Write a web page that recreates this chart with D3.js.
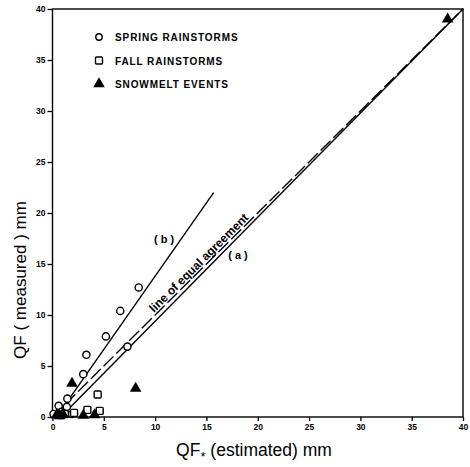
<!DOCTYPE html>
<html>
<head>
<meta charset="utf-8">
<script src="https://cdn.jsdelivr.net/npm/d3@7"></script>
<style>
  body { margin: 0; background: #fff; }
  svg { font-family: "Liberation Sans", Arial, sans-serif; }
</style>
</head>
<body>
<svg id="drawing_region"></svg>
<script>
// QF estimated (x) vs measured (y), mm
const spring = [
    [0.1, 0.3], [0.6, 1.1], [0.9, 0.5], [1.4, 1.0], [1.45, 1.8], [1.9, 0.3],
    [3.0, 4.2], [3.3, 6.1], [5.2, 7.9], [6.6, 10.4], [8.4, 12.7], [7.3, 6.9]
];
const fall = [
    [0.8, 0.2], [1.2, 0.3], [2.1, 0.4], [3.4, 0.7], [4.6, 0.6], [4.4, 2.2]
];
const snowmelt = [
    [0.4, 0.2], [0.7, 0.1], [1.0, 0.3], [3.0, 0.15], [4.1, 0.2],
    [1.9, 3.3], [8.1, 2.8], [38.5, 39.0]
];
const lineEqual = [[0, 0], [40, 40]];
const lineA = [[0.8, 0], [40, 40]];
const lineB = [[0.5, 0.15], [15.7, 22.0]];
const ticks = [0, 5, 10, 15, 20, 25, 30, 35, 40];
const legendLabels = ['SPRING RAINSTORMS', 'FALL RAINSTORMS', 'SNOWMELT EVENTS'];

const config = {
    parent: '#drawing_region',
    width: 470,
    height: 467,
    margin: { left: 52.5, right: 7, top: 9, bottom: 50 }
};

const svg = d3.select(config.parent)
    .attr('width', config.width)
    .attr('height', config.height);

const x = d3.scaleLinear().domain([0, 40])
    .range([config.margin.left, config.width - config.margin.right]);
const y = d3.scaleLinear().domain([0, 40])
    .range([config.height - config.margin.bottom, config.margin.top]);

// frame
svg.append('rect')
    .attr('x', x(0)).attr('y', y(40))
    .attr('width', x(40) - x(0)).attr('height', y(0) - y(40))
    .attr('fill', 'none').attr('stroke', '#000').attr('stroke-width', 1.4);

// axes
const xAxis = svg.append('g')
    .attr('transform', `translate(0,${y(0)})`)
    .call(d3.axisBottom(x).tickValues(ticks).tickSize(4).tickPadding(3));
const yAxis = svg.append('g')
    .attr('transform', `translate(${x(0)},0)`)
    .call(d3.axisLeft(y).tickValues(ticks).tickSize(5).tickPadding(2));

[xAxis, yAxis].forEach(g => {
    g.select('.domain').remove();
    g.selectAll('line').attr('stroke', '#000').attr('stroke-width', 1.3);
    g.selectAll('text')
        .attr('fill', '#000')
        .style('font-size', '8.5px')
        .style('font-weight', 'bold');
});

// axis titles
svg.append('text')
    .attr('x', 254).attr('y', 456)
    .attr('text-anchor', 'middle')
    .style('font-size', '17.5px')
    .html('QF<tspan dy="5" font-size="13">*</tspan><tspan dy="-5"> (estimated) mm</tspan>');

svg.append('text')
    .attr('transform', 'translate(26,280) rotate(-90)')
    .attr('text-anchor', 'middle')
    .style('font-size', '17px')
    .text('QF ( measured ) mm');

// lines
const line = d3.line().x(d => x(d[0])).y(d => y(d[1]));

svg.append('path').datum(lineEqual)
    .attr('d', line)
    .attr('fill', 'none').attr('stroke', '#000').attr('stroke-width', 1.4)
    .attr('stroke-dasharray', '14,4');

svg.append('path').datum(lineA)
    .attr('d', line)
    .attr('fill', 'none').attr('stroke', '#000').attr('stroke-width', 1.4);

svg.append('path').datum(lineB)
    .attr('d', line)
    .attr('fill', 'none').attr('stroke', '#000').attr('stroke-width', 1.4);

const angle = Math.atan2(y(40) - y(0), x(40) - x(0)) * 180 / Math.PI;
svg.append('text')
    .attr('transform', `translate(${x(9.9)},${y(9.9) - 3}) rotate(${angle})`)
    .style('font-size', '12px')
    .style('font-weight', 'bold')
    .text('line of equal agreement');

svg.append('text')
    .attr('x', 164).attr('y', 243)
    .attr('text-anchor', 'middle')
    .style('font-size', '11px').style('font-weight', 'bold')
    .text('( b )');

svg.append('text')
    .attr('x', 238).attr('y', 259)
    .attr('text-anchor', 'middle')
    .style('font-size', '11px').style('font-weight', 'bold')
    .text('( a )');

// points
const tri = d3.symbol().type(d3.symbolTriangle).size(58);

svg.selectAll('.spring')
    .data(spring)
    .enter()
    .append('circle')
    .attr('cx', d => x(d[0])).attr('cy', d => y(d[1]))
    .attr('r', 3.6)
    .attr('fill', '#fff').attr('stroke', '#000').attr('stroke-width', 1.4);

svg.selectAll('.fall')
    .data(fall)
    .enter()
    .append('rect')
    .attr('x', d => x(d[0]) - 3.5).attr('y', d => y(d[1]) - 3.5)
    .attr('width', 7).attr('height', 7).attr('rx', 1)
    .attr('fill', '#fff').attr('stroke', '#000').attr('stroke-width', 1.4);

svg.selectAll('.snow')
    .data(snowmelt)
    .enter()
    .append('path')
    .attr('d', tri)
    .attr('transform', d => `translate(${x(d[0])},${y(d[1])})`)
    .attr('fill', '#000');

// legend
const legend = svg.append('g');
legendLabels.forEach((label, i) => {
    const ly = 37 + i * 23.5;
    if (i === 0) {
        legend.append('circle').attr('cx', 99).attr('cy', ly).attr('r', 3.2)
            .attr('fill', '#fff').attr('stroke', '#000').attr('stroke-width', 1.4);
    } else if (i === 1) {
        legend.append('rect').attr('x', 95.5).attr('y', ly - 3.5).attr('width', 7).attr('height', 7).attr('rx', 1)
            .attr('fill', '#fff').attr('stroke', '#000').attr('stroke-width', 1.4);
    } else {
        legend.append('path').attr('d', tri).attr('transform', `translate(99,${ly})`).attr('fill', '#000');
    }
    legend.append('text')
        .attr('x', 115).attr('y', ly + 4)
        .style('font-size', '10px').style('font-weight', 'bold')
        .style('letter-spacing', '0.9px')
        .text(label);
});
</script>
</body>
</html>
